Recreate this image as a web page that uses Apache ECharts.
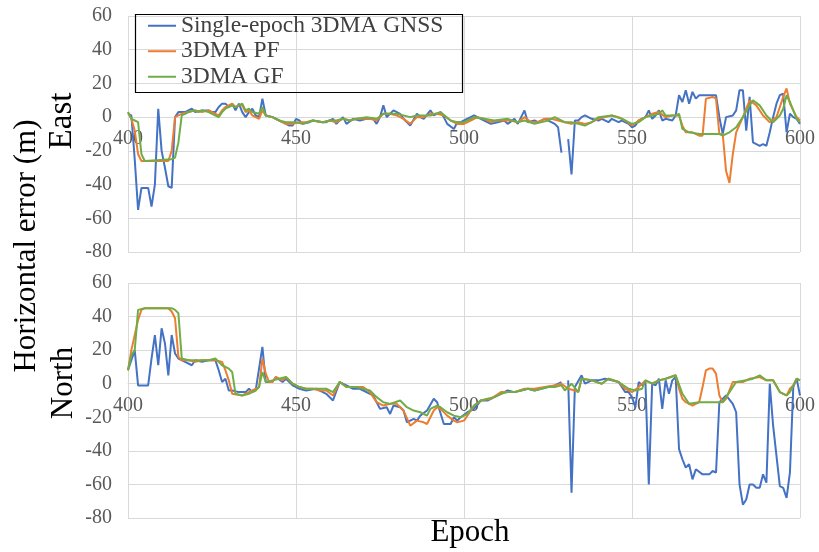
<!DOCTYPE html>
<html><head><meta charset="utf-8">
<script src="https://cdn.jsdelivr.net/npm/echarts/dist/echarts.min.js"></script>
<style>html,body{margin:0;padding:0;background:#fff}#c{width:819px;height:552px}</style>
</head><body><div id="c"></div><script>
// ---- data: [epoch, horizontal error (m)] ----
const seriesNames = ['Single-epoch 3DMA GNSS', '3DMA PF', '3DMA GF'];
const xTicks = [400, 450, 500, 550, 600];
const yTicks = [-80, -60, -40, -20, 0, 20, 40, 60];

const eastSingle = [[400,2],[401,1],[402,-25],[403,-55],[404,-42],[406,-42],[407,-53],[408,-40],[409,5],[410,-20],[411,-30],[412,-41],[413,-42],[414,0],[415,3],[417,3],[419,5],[420,3],[422,4],[424,4],[425,3],[426,3],[427,6],[428,8],[429,8],[430,6],[431,8],[432,4],[433,8],[434,3],[435,0],[436,3],[437,5],[438,1],[439,0],[440,11],[441,1],[443,0],[445,-2],[446,-3],[448,-5],[449,-5],[450,-1],[451,-2],[452,-4],[454,-3],[455,-2],[458,-3],[459,-3],[461,-1],[462,-4],[464,0],[465,-4],[467,-1],[469,-2],[471,-1],[473,-1],[474,-4],[475,0],[476,7],[477,0],[479,4],[481,2],[482,-1],[484,-5],[486,2],[487,0],[488,-1],[490,4],[491,1],[493,3],[494,0],[495,-4],[497,-7],[498,-3],[499,-3],[500,-2],[503,1],[505,-1],[506,-2],[508,-4],[510,-3],[512,-2],[513,-4],[515,-1],[516,-4],[518,4],[519,-3],[521,-2],[522,-3],[524,-1],[526,-3],[527,-4],[528,-6],[529,-21],[530,null],[531,-13],[532,-34],[533,-2],[534,-2],[535,0],[536,1],[538,-1],[540,-2],[541,-1],[543,-3],[544,-1],[546,-3],[547,-2],[549,-4],[550,-6],[551,-5],[552,-2],[554,0],[555,4],[556,-1],[557,1],[558,4],[559,-2],[560,-1],[562,-2],[563,1],[564,13],[565,9],[566,16],[567,8],[568,15],[569,11],[570,13],[572,13],[574,13],[575,13],[576,0],[577,-10],[578,0],[580,1],[581,4],[582,16],[583,16],[584,-8],[585,12],[586,-15],[587,-16],[588,-17],[589,-16],[590,-17],[591,-9],[592,0],[593,8],[594,13],[595,14],[596,-9],[597,2],[598,0],[599,-1],[600,-4]];
const eastPF = [[400,3],[401,-1],[402,-8],[403,-22],[404,-26],[412,-26],[413,-20],[414,0],[415,1],[416,2],[418,3],[420,4],[422,3],[424,4],[426,2],[427,1],[428,4],[429,6],[430,7],[431,8],[432,6],[433,7],[434,7],[435,3],[436,4],[437,1],[438,0],[439,-1],[440,4],[441,1],[443,0],[445,-2],[447,-4],[449,-4],[451,-3],[453,-3],[455,-2],[458,-3],[460,-2],[462,-3],[464,-1],[466,-2],[468,-1],[470,-1],[472,-1],[474,-2],[476,2],[478,2],[480,1],[482,-1],[484,-4],[486,0],[488,0],[490,2],[492,2],[494,1],[496,-2],[498,-4],[500,-4],[502,-2],[504,0],[506,-1],[508,-3],[510,-2],[512,-2],[514,-2],[516,-3],[518,0],[520,-3],[522,-3],[524,-1],[526,-1],[528,-2],[530,-3],[532,-4],[534,-3],[536,-4],[538,-3],[540,-1],[542,0],[544,1],[546,0],[548,-2],[550,-5],[552,-2],[554,0],[556,2],[558,3],[560,0],[562,1],[564,1],[565,-5],[566,-9],[568,-9],[570,-11],[571,-11],[572,11],[574,12],[575,11],[576,-10],[577,-10],[578,-32],[579,-39],[580,-22],[581,-9],[583,0],[585,10],[587,7],[589,1],[591,-3],[593,0],[594,6],[595,12],[596,17],[597,8],[599,0],[600,-2]];
const eastGF = [[400,3],[401,-1],[402,-2],[403,-3],[404,-22],[405,-26],[413,-25],[414,-24],[415,-15],[416,1],[417,2],[418,3],[420,4],[421,3],[422,4],[424,3],[425,2],[427,0],[428,3],[429,5],[431,7],[432,6],[434,8],[435,4],[436,5],[437,3],[439,2],[440,6],[441,1],[443,0],[445,-2],[447,-3],[450,-3],[452,-4],[455,-2],[458,-3],[460,-2],[462,-2],[464,-1],[466,-2],[468,-1],[471,0],[474,-1],[476,2],[480,2],[484,0],[486,1],[490,1],[493,3],[496,-2],[498,-3],[500,-3],[503,0],[506,-1],[509,-2],[513,-1],[516,-3],[518,-2],[521,-4],[525,-2],[527,0],[530,-3],[532,-3],[534,-4],[536,-5],[538,-3],[540,0],[544,1],[547,-1],[550,-4],[552,-3],[554,0],[556,1],[558,2],[559,4],[560,1],[563,1],[564,2],[565,-7],[567,-9],[570,-10],[576,-10],[577,-11],[579,-9],[581,-6],[583,0],[585,7],[586,10],[588,7],[590,1],[592,-3],[594,1],[595,5],[596,13],[597,9],[599,-1],[600,-3]];

const northSingle = [[400,8],[401,14],[402,20],[403,-1],[406,-1],[407,15],[408,29],[409,11],[410,33],[411,24],[412,5],[413,29],[414,18],[415,15],[417,13],[419,11],[420,14],[422,13],[424,14],[426,14],[427,8],[428,1],[429,3],[430,-4],[431,-4],[433,-5],[435,-5],[436,-3],[437,-5],[438,-4],[440,22],[441,1],[443,1],[444,4],[446,1],[447,3],[449,-1],[451,-3],[453,-4],[456,-3],[458,-5],[459,-6],[461,-10],[463,1],[465,-1],[467,-3],[469,-3],[472,-6],[473,-7],[475,-15],[477,-14],[478,-18],[479,-13],[481,-14],[482,-16],[483,-23],[485,-21],[486,-22],[487,-19],[489,-16],[491,-9],[492,-11],[494,-24],[496,-24],[497,-20],[498,-22],[499,-20],[501,-17],[503,-15],[505,-10],[507,-10],[509,-8],[511,-6],[513,-4],[515,-5],[517,-4],[519,-3],[521,-4],[523,-3],[525,-2],[527,-1],[529,1],[530,null],[531,2],[532,-65],[533,-2],[535,5],[536,0],[538,2],[540,2],[542,3],[544,2],[546,1],[548,-5],[549,-5],[550,-8],[551,-14],[552,1],[553,-1],[554,1],[555,-60],[556,0],[557,-1],[558,3],[559,-15],[560,2],[561,-6],[562,2],[563,4],[564,-39],[565,-45],[566,-50],[567,-48],[568,-57],[569,-51],[571,-54],[573,-54],[574,-52],[575,-53],[576,-11],[578,-7],[580,-12],[581,-17],[582,-60],[583,-72],[584,-69],[585,-60],[586,-60],[587,-62],[588,-62],[589,-54],[590,-59],[591,0],[592,-25],[594,-61],[595,-62],[596,-68],[597,-53],[598,-2],[599,3],[600,-7]];
const northPF = [[400,8],[401,20],[403,38],[404,44],[405,45],[412,45],[413,43],[414,39],[415,16],[416,14],[418,14],[420,13],[422,14],[424,14],[426,14],[428,13],[429,8],[430,2],[431,-6],[434,-7],[436,-5],[437,-4],[439,-2],[440,15],[441,6],[442,1],[443,1],[444,4],[446,2],[447,4],[449,0],[451,-2],[453,-3],[455,-3],[457,-4],[459,-4],[461,-7],[463,1],[465,-2],[468,-2],[470,-2],[472,-5],[474,-11],[476,-13],[478,-12],[480,-12],[482,-16],[484,-25],[486,-22],[488,-23],[489,-24],[491,-16],[492,-14],[493,-15],[495,-19],[497,-22],[498,-23],[500,-22],[501,-19],[503,-13],[505,-10],[508,-9],[511,-5],[513,-5],[515,-5],[518,-3],[521,-3],[524,-2],[527,-1],[529,0],[531,-3],[533,-4],[534,-5],[535,3],[538,2],[541,0],[543,3],[546,1],[548,-3],[550,-5],[552,-2],[554,2],[556,0],[558,2],[560,3],[563,5],[564,-3],[565,-9],[566,-11],[568,-13],[570,-11],[571,-2],[572,8],[573,9],[574,9],[575,6],[576,-7],[577,-11],[578,-9],[579,-4],[580,1],[583,1],[585,3],[588,4],[590,2],[592,2],[594,-5],[595,-6],[596,-7],[597,-3],[598,-1],[599,3],[600,2]];
const northGF = [[400,8],[401,17],[402,20],[403,44],[405,45],[413,45],[414,44],[415,42],[416,15],[418,14],[420,14],[422,14],[424,14],[426,15],[427,13],[428,11],[430,9],[431,7],[432,-6],[434,-7],[436,-6],[438,-4],[439,-2],[440,7],[441,1],[443,2],[445,3],[447,4],[449,0],[451,-2],[453,-3],[456,-3],[459,-3],[461,-5],[463,1],[465,-2],[468,-2],[470,-3],[472,-4],[474,-8],[476,-11],[478,-12],[481,-10],[483,-14],[485,-16],[487,-17],[489,-19],[490,-15],[492,-13],[493,-14],[495,-17],[497,-19],[499,-20],[501,-18],[503,-13],[505,-10],[507,-9],[509,-8],[511,-6],[513,-5],[515,-5],[517,-4],[519,-3],[521,-4],[523,-3],[525,-2],[527,-2],[529,-1],[530,-4],[532,0],[534,-5],[535,3],[538,2],[541,0],[543,3],[546,1],[549,-3],[551,-4],[553,-3],[554,2],[556,0],[558,2],[560,3],[563,5],[565,-6],[567,-12],[570,-11],[575,-11],[577,-11],[579,-5],[581,1],[584,2],[586,3],[588,5],[590,2],[592,2],[594,-5],[596,-7],[597,-5],[599,3],[600,2]];

const colors = ['#4472C4', '#ED7D31', '#70AD47'];
const FONT = 'Liberation Serif';

const chart = echarts.init(document.getElementById('c'));

const grids = [
  { left: 128, top: 16, width: 672, height: 236 },
  { left: 128, top: 283, width: 672, height: 235 }
];
const yMin = yTicks[0], yMax = yTicks[yTicks.length - 1];

function xAx(gi) {
  // place the axis (and its labels) on the y = 0 line
  const g = grids[gi];
  const zeroFromBottom = g.height * (0 - yMin) / (yMax - yMin);
  return {
    type: 'value', gridIndex: gi, min: xTicks[0], max: xTicks[xTicks.length - 1], interval: xTicks[1] - xTicks[0],
    position: 'bottom', offset: -zeroFromBottom,
    axisLine: { show: true, onZero: false, lineStyle: { color: '#d9d9d9', width: 1 } },
    axisTick: { show: false },
    axisLabel: { fontSize: 20, color: '#595959', fontFamily: FONT, margin: 12 },
    splitLine: { show: true, lineStyle: { color: '#d9d9d9', width: 1 } }
  };
}
function yAx(gi) {
  return {
    type: 'value', gridIndex: gi, min: yMin, max: yMax, interval: yTicks[1] - yTicks[0],
    axisLine: { show: false, onZero: false },
    axisTick: { show: false },
    axisLabel: { fontSize: 20, color: '#595959', fontFamily: FONT, margin: 16 },
    splitLine: { show: true, lineStyle: { color: '#d9d9d9', width: 1 } }
  };
}
function ser(name, data, idx, gi) {
  return {
    name: name, type: 'line', data: data, xAxisIndex: gi, yAxisIndex: gi,
    showSymbol: false, symbol: 'none', connectNulls: false, animation: false,
    lineStyle: { width: 2, color: colors[idx] }, itemStyle: { color: colors[idx] }
  };
}

chart.setOption({
  animation: false,
  grid: grids,
  xAxis: [xAx(0), xAx(1)],
  yAxis: [yAx(0), yAx(1)],
  legend: {
    data: seriesNames, orient: 'vertical', left: 143, top: 8, icon: 'rect',
    itemWidth: 28, itemHeight: 2, itemGap: 0,
    textStyle: { fontSize: 23.5, color: '#404040', fontFamily: FONT, lineHeight: 25.5 }
  },
  series: [
    ser(seriesNames[0], eastSingle, 0, 0), ser(seriesNames[1], eastPF, 1, 0), ser(seriesNames[2], eastGF, 2, 0),
    ser(seriesNames[0], northSingle, 0, 1), ser(seriesNames[1], northPF, 1, 1), ser(seriesNames[2], northGF, 2, 1)
  ],
  graphic: [
    { type: 'rect', left: 133, top: 12, z: 100, shape: { width: 327, height: 78 }, style: { fill: 'none', stroke: '#000', lineWidth: 1.2 } },
    { type: 'text', x: 27, y: 246, rotation: Math.PI / 2, style: { text: 'Horizontal error (m)', font: '31px "Liberation Serif"', fill: '#000', align: 'center', verticalAlign: 'middle' } },
    { type: 'text', x: 62, y: 121, rotation: Math.PI / 2, style: { text: 'East', font: '33px "Liberation Serif"', fill: '#000', align: 'center', verticalAlign: 'middle' } },
    { type: 'text', x: 64, y: 383, rotation: Math.PI / 2, style: { text: 'North', font: '31px "Liberation Serif"', fill: '#000', align: 'center', verticalAlign: 'middle' } },
    { type: 'text', x: 470, y: 533, style: { text: 'Epoch', font: '31px "Liberation Serif"', fill: '#000', align: 'center', verticalAlign: 'middle' } }
  ]
});
</script></body></html>
